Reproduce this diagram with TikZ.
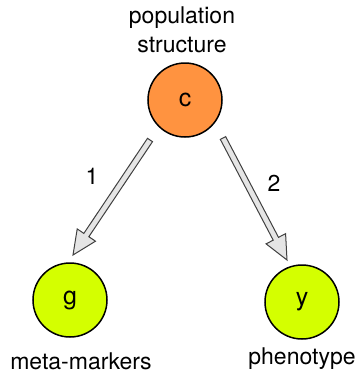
\documentclass[tikz,border=0pt]{standalone}
\usepackage{fontspec}
\setmainfont{TeX Gyre Heros}
\usetikzlibrary{calc}
\definecolor{corange}{HTML}{FF9340}
\definecolor{clime}{HTML}{D4FF00}
\tikzset{
  var/.style={circle, draw=black, line width=1.5pt, minimum size=74pt, inner sep=0pt, font=\fontsize{25}{30}\selectfont},
  lbl/.style={font=\fontsize{23}{29}\selectfont, inner sep=0pt, align=center},
  fatarrow/.style={fill=black!10, draw=black!75, line width=1pt, line join=miter},
}
\newcommand\fatarr[2]{%
  \coordinate (hb) at ($(#2)!24pt!(#1)$);
  \draw[fatarrow] ($(#1)!3pt!-90:(#2)$) -- ($(hb)!3pt!-90:(#2)$) -- ($(hb)!11pt!-90:(#2)$) -- (#2)
    -- ($(hb)!11pt!90:(#2)$) -- ($(hb)!3pt!90:(#2)$) -- ($(#1)!3pt!90:(#2)$) -- cycle;}
\begin{document}
\begin{tikzpicture}[x=1pt,y=1pt]
\useasboundingbox (0,0) rectangle (357,-373);
\node[var, fill=corange] (c) at (185,-100) {c};
\node[var, fill=clime] (g) at (70,-300) {g};
\node[var, fill=clime] (y) at (302,-302) {y};
\node[lbl] (ct) at (182,-30) {population\\structure};
\node[lbl] (gt) at (81,-361) {meta-markers};
\node[lbl] (yt) at (302,-359) {phenotype};
\path (c) ++(-35,-40) coordinate (s1);
\path (g) ++(3,45) coordinate (t1);
\path (c) ++(38,-38) coordinate (s2);
\path (y) ++(-15,42) coordinate (t2);
\fatarr{s1}{t1}
\fatarr{s2}{t2}
\node[lbl] (l1) at (92,-176) {1};
\node[lbl] (l2) at (274,-183) {2};
\end{tikzpicture}
\end{document}
